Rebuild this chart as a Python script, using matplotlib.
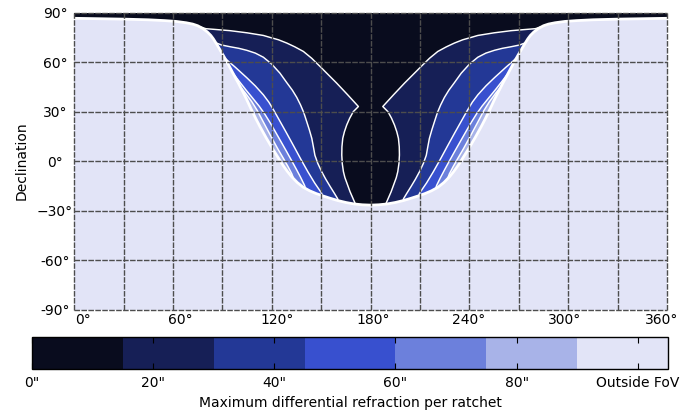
import numpy as np
import matplotlib
matplotlib.use("Agg")
import matplotlib.pyplot as plt
from matplotlib.colors import ListedColormap, BoundaryNorm
from matplotlib.cm import ScalarMappable

# ---------------- data (left half, mirrored about RA=180) ----------------
fov_ra = [0, 30, 45, 55, 62, 68, 72, 75, 78, 81, 83, 84.5, 86.5, 88.5, 90.5, 92.5, 94.7, 97,
          99.7, 102.3, 104.8, 107.5, 110.3, 112.9, 116.5, 120.8, 123, 125, 127, 129.5, 132,
          135.5, 139, 143, 147, 151, 155, 160, 165, 170, 175, 180]
fov_dec = [86.6, 86.1, 85.7, 85.2, 84.7, 83.9, 83.1, 82.1, 80.5, 78.2, 76.2, 74.2, 71, 67.6,
           64.2, 60.7, 56.6, 52.3, 47.3, 42.3, 37.3, 31.5, 25.8, 20.8, 14.3, 7, 3.5, 0.3, -2.8,
           -6.3, -9.4, -13, -15.8, -18, -19.7, -21.1, -22.4, -23.9, -25.1, -26, -26.5, -26.7]

c15_ra = [77.2, 80, 85, 94.7, 105, 114.9, 119, 124, 129.1, 134, 139.2, 144.2, 149.3, 154.3,
          159.4, 166, 172.6, 169.5, 167.3, 165.5, 164.1, 163.1, 162.6, 162.5, 162.8, 163.5,
          164.4, 165.5, 167.5, 170.6, 171.5]
c15_dec = [81.2, 80.3, 79.9, 79.1, 77.8, 76.2, 75.0, 73.6, 71.6, 69.3, 66.5, 62.4, 57.4, 52.4,
           47.3, 40.3, 33.1, 30, 26, 21.9, 17.8, 13.8, 8.7, 3.7, -1.5, -6.4,
           -10, -13, -18.5, -25.6, -28]

c30_ra = [85.8, 89.6, 95, 100, 104.8, 110, 114.9, 120, 125, 129.1, 132.5, 135.2, 137.5, 139.4,
          141.2, 142.8, 144.3, 145.3, 146.2, 148, 150.3, 152.8, 155.5, 158, 160, 160.5]
c30_dec = [71.8, 70.4, 69.3, 68.4, 67.2, 65.5, 63.0, 58.8, 53.3, 47.6, 43.0, 38.6, 34, 29.5,
           24, 19, 13.8, 8.5, 3.5, -1.5, -6.4, -11, -15.5, -19.5, -22.8, -25]

c45_ra = [91.8, 95, 98, 101.5, 104.8, 110, 114.9, 118.2, 121, 124.5, 129, 133.5, 138, 142,
          146, 150.3, 151]
c45_dec = [62.2, 59.4, 56.8, 53.6, 50.6, 45.6, 40.2, 35.8, 31.2, 25, 17, 8.8, 0.5, -6.6,
           -13.2, -19.5, -22]

c60_ra = [96.7, 100.3, 104.3, 108.4, 112.3, 115.7, 119, 122.3, 125.6, 128.9, 132, 134.9,
          137.6, 139.9, 141]
c60_dec = [53, 48.3, 43.2, 38.2, 33.4, 28.6, 23.3, 17.6, 11.8, 6, 0.4, -4.9, -10, -14.7, -18]

c75_ra = [100, 103.9, 107.9, 111.3, 114.2, 117.3, 120.5, 123.8, 127.2, 129.9, 132.2, 133.6]
c75_dec = [46.2, 41.4, 36, 30.5, 25, 19.2, 13.2, 7.2, 1.4, -3.4, -7.8, -11.5]

levels = [0, 15, 30, 45, 60, 75, 90, 105]
band_colors = ["#090c1e", "#161f56", "#233896", "#3850cf", "#6c80dc", "#a8b3e8", "#e2e4f7"]
cbar_ticks = [0, 20, 40, 60, 80, 100]
cbar_labels = ['0"', '20"', '40"', '60"', '80"', 'Outside FoV']

ra_grid = list(range(0, 361, 30))
dec_grid = list(range(-90, 91, 30))
ra_label_pos = [5.4, 64.3, 123, 181.5, 239.4, 297.7, 356.4]
ra_labels = ["0°", "60°", "120°", "180°", "240°", "300°", "360°"]
dec_ticks = [90, 60, 30, 0, -30, -60, -90]
dec_labels = ["90°", "60°", "30°", "0°", "\u221230°", "-60°", "-90°"]

# ---------------- figure ----------------
fig = plt.figure(figsize=(6.94, 4.15), dpi=100)
ax = fig.add_axes([74.1 / 694, (415 - 309.5) / 415, 593 / 694, 296.8 / 415])
ax.set_xlim(0, 360)
ax.set_ylim(-90, 90)
ax.set_facecolor(band_colors[0])
for s in ax.spines.values():
    s.set_visible(False)


def mirror(ra):
    return [360 - r for r in ra]


curves = [(c15_ra, c15_dec), (c30_ra, c30_dec), (c45_ra, c45_dec),
          (c60_ra, c60_dec), (c75_ra, c75_dec)]

for k, (cra, cdec) in enumerate(curves):
    col = band_colors[k + 1]
    px = list(cra) + [cra[-1], -5]
    py = list(cdec) + [-95, -95]
    ax.fill(px, py, color=col, lw=0, zorder=1)
    mra = mirror(cra)
    px = mra + [mra[-1], 365]
    ax.fill(px, py, color=col, lw=0, zorder=1)
    ax.plot(cra, cdec, color="white", lw=1.05, zorder=3, solid_joinstyle="round")
    ax.plot(mra, cdec, color="white", lw=1.05, zorder=3, solid_joinstyle="round")

full_ra = list(fov_ra) + mirror(fov_ra[::-1])[1:]
full_dec = list(fov_dec) + list(fov_dec[::-1])[1:]
ax.fill([-5] + full_ra + [365, 365, -5], [full_dec[0]] + full_dec + [full_dec[-1], -95, -95],
        color=band_colors[-1], lw=0, zorder=4)
ax.plot(full_ra, full_dec, color="white", lw=2.0, zorder=5, solid_joinstyle="round")

grid_style = dict(color="#4d4d4d", lw=1.0, ls=(0, (4, 1)), zorder=6, clip_on=False)
for r in ra_grid:
    ax.axvline(r, **grid_style)
for d in dec_grid:
    ax.axhline(d, **grid_style)

ax.set_xticks(ra_label_pos)
ax.set_xticklabels(ra_labels)
ax.set_yticks(dec_ticks)
ax.set_yticklabels(dec_labels, ha="center")
ax.tick_params(axis="x", length=0, pad=2.5, labelsize=10)
ax.tick_params(axis="y", length=0, pad=13.7, labelsize=10)
ax.set_ylabel("Declination", fontsize=10)
ax.yaxis.set_label_coords(-0.076, 0.5)

# ---------------- colorbar ----------------
cax = fig.add_axes([32 / 694, (415 - 369) / 415, 636 / 694, 32 / 415])
cmap = ListedColormap(band_colors)
norm = BoundaryNorm(levels, cmap.N)
cb = fig.colorbar(ScalarMappable(norm=norm, cmap=cmap), cax=cax, orientation="horizontal",
                  ticks=cbar_ticks, spacing="proportional")
cb.set_ticklabels(cbar_labels)
cb.outline.set_linewidth(1.0)
cax.minorticks_off()
cax.tick_params(axis="x", which="both", direction="in", top=True, bottom=True,
                length=4, width=0.8, pad=5, labelsize=10)
cb.set_label("Maximum differential refraction per ratchet", fontsize=10, labelpad=4)

fig.savefig("out.png", dpi=100)
